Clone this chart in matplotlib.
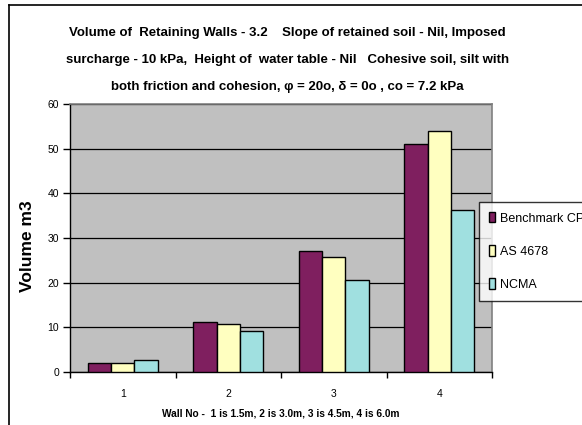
import numpy as np
import matplotlib
matplotlib.use("Agg")
from matplotlib import pyplot as plt
from matplotlib.lines import Line2D

plt.rcParams['font.family'] = ['Liberation Sans', 'DejaVu Sans']

# wall heights 1..4 and wall volumes from the three methods
walls = ['1', '2', '3', '4']
benchmark = [2.1, 11.2, 27.0, 51.1]
as4678 = [2.0, 10.8, 25.8, 53.9]
ncma = [2.6, 9.2, 20.5, 36.3]
series_names = ['Benchmark CPA', 'AS 4678', 'NCMA']
colors = ['#7f1f5f', '#ffffc0', '#a0e0e0']

fig = plt.figure(figsize=(5.82, 4.25), dpi=100)

# outer chart frame (top and left edges only)
fig.add_artist(Line2D([9 / 582, 1.0], [1 - 5 / 425, 1 - 5 / 425], color='black', lw=1.2))
fig.add_artist(Line2D([9 / 582, 9 / 582], [0, 1 - 5 / 425], color='black', lw=1.2))

ax = fig.add_axes([70 / 582, 1 - 372 / 425, 422 / 582, 268 / 425])
ax.set_facecolor('#c0c0c0')

x = np.arange(len(walls))
w = 0.222
for i, vals in enumerate([benchmark, as4678, ncma]):
    ax.bar(x + (i - 1) * w, vals, width=w, color=colors[i], edgecolor='black',
           linewidth=1.0, label=series_names[i], zorder=3)

ax.set_xlim(-0.5, 3.5)
ax.set_ylim(0, 60)
ax.set_yticks(range(0, 61, 10))
ax.yaxis.grid(True, color='black', linewidth=0.9, zorder=1)
ax.tick_params(axis='y', direction='out', length=5, width=1, labelsize=7.5, pad=3)

# category boundaries carry the tick marks, labels sit at the centres
ax.set_xticks(np.arange(-0.5, 4, 1.0))
ax.set_xticklabels([])
ax.set_xticks(x, minor=True)
ax.set_xticklabels(walls, minor=True)
ax.tick_params(axis='x', which='major', direction='out', length=4, width=1)
ax.tick_params(axis='x', which='minor', length=0, labelsize=7.5, pad=12)

for s in ['top', 'right']:
    ax.spines[s].set_color('#808080')
    ax.spines[s].set_linewidth(1.2)
for s in ['left', 'bottom']:
    ax.spines[s].set_color('black')
    ax.spines[s].set_linewidth(1.0)

ax.set_xlabel('Wall No -  1 is 1.5m, 2 is 3.0m, 3 is 4.5m, 4 is 6.0m',
              fontsize=7.3, fontweight='bold', labelpad=7)
ax.set_ylabel('Volume m3', fontsize=12.5, fontweight='bold', labelpad=9)
ax.yaxis.set_label_coords(-0.082, 0.47)

title_x = 0.5 * (70 + 505) / 582
title_lines = [
    'Volume of  Retaining Walls - 3.2    Slope of retained soil - Nil, Imposed',
    'surcharge - 10 kPa,  Height of  water table - Nil   Cohesive soil, silt with',
    'both friction and cohesion, \u03c6 = 20o, \u03b4 = 0o , co = 7.2 kPa',
]
for k, line in enumerate(title_lines):
    fig.text(title_x, 1 - (33 + 27 * k) / 425, line,
             ha='center', va='center', fontsize=9.5, fontweight='bold')

leg = ax.legend(loc='upper left', bbox_to_anchor=(479 / 582, 1 - 202 / 425),
                bbox_transform=fig.transFigure, fontsize=9, frameon=True,
                fancybox=False, handlelength=0.5, handleheight=0.9,
                handletextpad=0.35, labelspacing=1.65, borderpad=0.8,
                borderaxespad=0)
leg.get_frame().set_edgecolor('black')
leg.get_frame().set_linewidth(1.0)
leg.get_frame().set_facecolor('white')

fig.savefig('out.png', dpi=100)
